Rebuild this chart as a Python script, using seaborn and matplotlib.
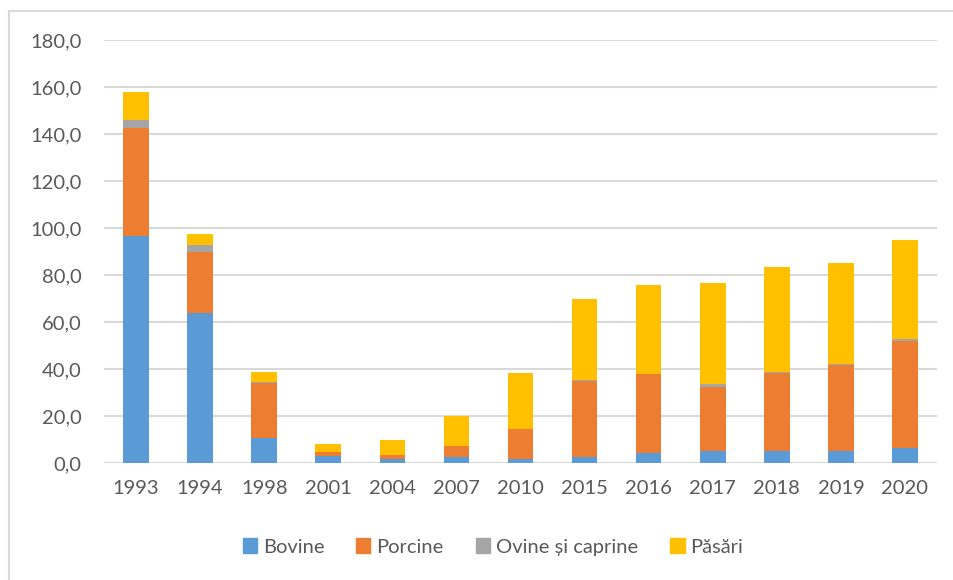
import numpy as np
import pandas as pd
import matplotlib
matplotlib.use("Agg")
import matplotlib.pyplot as plt
import matplotlib.lines as mlines
import matplotlib.patches as mpatches
from matplotlib.ticker import FuncFormatter, MultipleLocator
import seaborn as sns

years = ["1993", "1994", "1998", "2001", "2004", "2007", "2010",
         "2015", "2016", "2017", "2018", "2019", "2020"]
bovine = [96.6, 63.8, 10.6, 3.0, 1.8, 2.5, 1.5, 2.4, 4.1, 5.1, 5.1, 5.1, 6.3]
porcine = [46.1, 26.1, 23.3, 1.5, 1.7, 4.8, 13.0, 32.6, 33.6, 27.4, 33.3, 36.6, 45.7]
ovine = [3.3, 2.9, 0.7, 0.1, 0.1, 0.1, 0.1, 0.2, 0.2, 1.0, 0.2, 0.6, 0.6]
pasari = [12.0, 4.6, 4.1, 3.3, 6.0, 12.4, 23.8, 34.8, 38.0, 43.0, 44.9, 42.8, 42.3]

series = ["Bovine", "Porcine", "Ovine și caprine", "Păsări"]
colors = ["#5B9BD5", "#ED7D31", "#A5A5A5", "#FFC000"]

df = pd.DataFrame({"an": years, "Bovine": bovine, "Porcine": porcine,
                   "Ovine și caprine": ovine, "Păsări": pasari})
cum = df[series].cumsum(axis=1)

sns.set_style("white")
plt.rcParams["font.family"] = ["Lato", "DejaVu Sans"]

fig = plt.figure(figsize=(9.54, 5.8), dpi=100)
ax = fig.add_axes([104 / 954, 1 - 463 / 580, 833 / 954, 423 / 580])

# stacked bars: draw cumulative totals from the top layer down
for name, col in reversed(list(zip(series, colors))):
    sns.barplot(x=df["an"], y=cum[name], color=col, width=0.4,
                saturation=1, linewidth=0, ax=ax, zorder=3)

ax.set_ylim(0, 180)
ax.set_xlim(-0.5, len(years) - 0.5)
ax.yaxis.set_major_locator(MultipleLocator(20))
ax.yaxis.set_major_formatter(FuncFormatter(lambda v, p: f"{v:.1f}".replace(".", ",")))
ax.grid(axis="y", color="#D9D9D9", linewidth=1.5, zorder=0)
ax.set_axisbelow(True)
for s in ax.spines.values():
    s.set_visible(False)
ax.set_xlabel("")
ax.set_ylabel("")
ax.tick_params(axis="both", length=0, labelsize=14.5, colors="#595959")
ax.tick_params(axis="y", pad=16)
ax.tick_params(axis="x", pad=12)

handles = [mpatches.Patch(color=c, label=n) for n, c in zip(series, colors)]
fig.legend(handles=handles, loc="center", bbox_to_anchor=(493 / 954, 1 - 547 / 580),
           ncol=4, frameon=False, fontsize=14.5, labelcolor="#595959",
           handlelength=0.7, handleheight=0.7, handletextpad=0.3, columnspacing=1.6)

# chart border (left and top edges visible)
fig.add_artist(mlines.Line2D([9 / 954, 9 / 954], [0, 1 - 11 / 580],
                             color="#D9D9D9", linewidth=1.5))
fig.add_artist(mlines.Line2D([9 / 954, 1], [1 - 11 / 580, 1 - 11 / 580],
                             color="#D9D9D9", linewidth=1.5))

fig.savefig("out.png", dpi=100, facecolor="white")
